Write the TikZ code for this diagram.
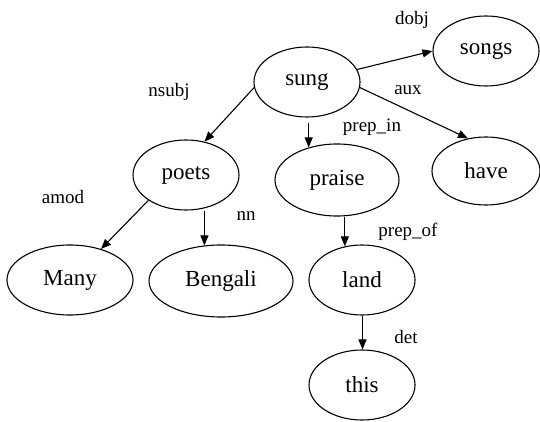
\documentclass[tikz,border=0pt]{standalone}
\usepackage{fontspec}
\setmainfont{Liberation Serif}
\usetikzlibrary{shapes.geometric,arrows.meta}
\begin{document}
\begin{tikzpicture}[x=1pt,y=-1pt,
  word/.style={draw, ellipse, line width=1.1pt, inner sep=0pt, minimum width=106pt, minimum height=70pt, font=\fontsize{23}{26}\selectfont},
  rel/.style={font=\fontsize{19}{22}\selectfont, inner sep=0pt},
  dep/.style={line width=1.1pt, -{Triangle[length=10pt,width=8pt]}}]
\useasboundingbox (0,0) rectangle (540,422);
\node[word] (sung) at (307,82) {sung};
\node[word] (songs) at (486,51) {songs};
\node[word, minimum width=108pt, minimum height=68pt] (have) at (486,171) {have};
\node[word, minimum width=124pt, minimum height=72pt] (praise) at (337,180) {praise};
\node[word] (poets) at (186,175) {poets};
\node[word, minimum width=126pt] (Many) at (70,280) {Many};
\node[word, minimum width=144pt, minimum height=72pt] (Bengali) at (221,281) {Bengali};
\node[word] (land) at (362,280) {land};
\node[word] (this) at (362,385) {this};

\node[rel] (ldobj) at (412,20) {dobj};
\node[rel] (lnsubj) at (169,92) {nsubj};
\node[rel] (laux) at (408,90) {aux};
\node[rel] (lprepin) at (372,127) {prep\_in};
\node[rel] (lamod) at (63,197) {amod};
\node[rel] (lnn) at (246,216) {nn};
\node[rel] (lprepof) at (408,232) {prep\_of};
\node[rel] (ldet) at (406,337) {det};

\draw[dep] (sung.14) -- (songs.180);
\draw[dep] (sung.-6) -- (have.119);
\draw[dep, shorten <=5pt] (praise.131 |- sung.south) -- (praise.131);
\draw[dep] (sung.186) -- (poets.61);
\draw[dep] (poets.214) -- (Many.45);
\draw[dep] (Bengali.115 |- poets.south) -- (Bengali.115);
\draw[dep] (land.117 |- praise.south) -- (land.117);
\draw[dep] ([xshift=0.5pt]land.south) -- ([xshift=0.5pt]this.north);
\end{tikzpicture}
\end{document}
